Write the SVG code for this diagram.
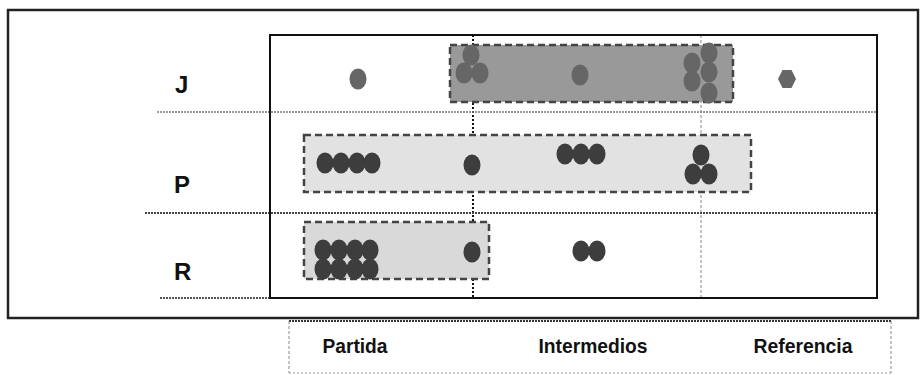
<svg xmlns="http://www.w3.org/2000/svg" width="924" height="375" viewBox="0 0 924 375">
<style>
.lbl{font-family:"Liberation Sans",Arial,sans-serif;font-weight:bold;fill:#111}
.row{font-size:24px}
.col{font-size:21px;text-anchor:middle}
.dj{fill:#666}
.dp{fill:#3d3d3d}
.box{stroke:#444;stroke-width:2.5;stroke-dasharray:7 4}
</style>
<defs>
<ellipse id="dot" cx="0" cy="0" rx="8.5" ry="10.5"/>
</defs>
<g id="frame">
<rect x="8" y="10" width="910" height="308" fill="#fff" stroke="#222" stroke-width="2.5"/>
</g>
<g id="guides">
<line x1="473" y1="35" x2="473" y2="298" stroke="#111" stroke-width="2" stroke-dasharray="2 2"/>
<line x1="701" y1="35" x2="701" y2="298" stroke="#888" stroke-width="1" stroke-dasharray="3 2"/>
<line x1="157" y1="112" x2="877" y2="112" stroke="#777" stroke-width="1.5" stroke-dasharray="2 1"/>
<line x1="145" y1="213" x2="877" y2="213" stroke="#444" stroke-width="2" stroke-dasharray="2 1"/>
<line x1="160" y1="298" x2="270" y2="298" stroke="#555" stroke-width="2" stroke-dasharray="2 1"/>
</g>
<g id="inner">
<rect x="270" y="35" width="607" height="263" fill="none" stroke="#111" stroke-width="2"/>
</g>
<g id="boxJ"><rect class="box" x="450" y="45" width="283" height="57" fill="#999"/></g>
<g id="boxP"><rect class="box" x="304" y="135" width="447" height="57" fill="#e2e2e2"/></g>
<g id="boxR"><rect class="box" x="304" y="222" width="185" height="57" fill="#d9d9d9"/></g>
<g id="dotsJ" class="dj">
<use href="#dot" x="358" y="79"/>
<use href="#dot" x="471" y="55"/>
<use href="#dot" x="464" y="73"/>
<use href="#dot" x="480" y="73"/>
<use href="#dot" x="580" y="75"/>
<use href="#dot" x="692" y="63"/>
<use href="#dot" x="692" y="81"/>
<use href="#dot" x="709" y="53"/>
<use href="#dot" x="709" y="72"/>
<use href="#dot" x="709" y="93"/>
<polygon points="778,79 782.5,70 791.5,70 796,79 791.5,88 782.5,88"/>
</g>
<g id="dotsP" class="dp">
<use href="#dot" x="325" y="163"/>
<use href="#dot" x="341" y="163"/>
<use href="#dot" x="357" y="163"/>
<use href="#dot" x="372" y="163"/>
<use href="#dot" x="472" y="165"/>
<use href="#dot" x="565" y="154"/>
<use href="#dot" x="581" y="154"/>
<use href="#dot" x="597" y="154"/>
<use href="#dot" x="701" y="155"/>
<use href="#dot" x="693" y="174"/>
<use href="#dot" x="709" y="174"/>
</g>
<g id="dotsR" class="dp">
<use href="#dot" x="323" y="250"/>
<use href="#dot" x="339" y="250"/>
<use href="#dot" x="355" y="250"/>
<use href="#dot" x="370" y="250"/>
<use href="#dot" x="323" y="269"/>
<use href="#dot" x="339" y="269"/>
<use href="#dot" x="355" y="269"/>
<use href="#dot" x="370" y="269"/>
<use href="#dot" x="472" y="252"/>
<use href="#dot" x="581" y="251"/>
<use href="#dot" x="597" y="251"/>
</g>
<g id="rowLabels">
<text class="lbl row" x="175" y="93">J</text>
<text class="lbl row" x="174" y="193">P</text>
<text class="lbl row" x="174" y="280">R</text>
</g>
<g id="axis">
<line x1="289" y1="321" x2="891" y2="321" stroke="#333" stroke-width="2" stroke-dasharray="2 1"/>
<line x1="289" y1="321" x2="289" y2="373" stroke="#888" stroke-width="1" stroke-dasharray="3 2"/>
<line x1="891" y1="321" x2="891" y2="373" stroke="#888" stroke-width="1" stroke-dasharray="3 2"/>
<line x1="289" y1="373" x2="891" y2="373" stroke="#999" stroke-width="1" stroke-dasharray="2 2"/>
<text class="lbl col" x="355" y="353" textLength="65" lengthAdjust="spacingAndGlyphs">Partida</text>
<text class="lbl col" x="593" y="353" textLength="109" lengthAdjust="spacingAndGlyphs">Intermedios</text>
<text class="lbl col" x="803" y="353" textLength="99" lengthAdjust="spacingAndGlyphs">Referencia</text>
</g>
</svg>
